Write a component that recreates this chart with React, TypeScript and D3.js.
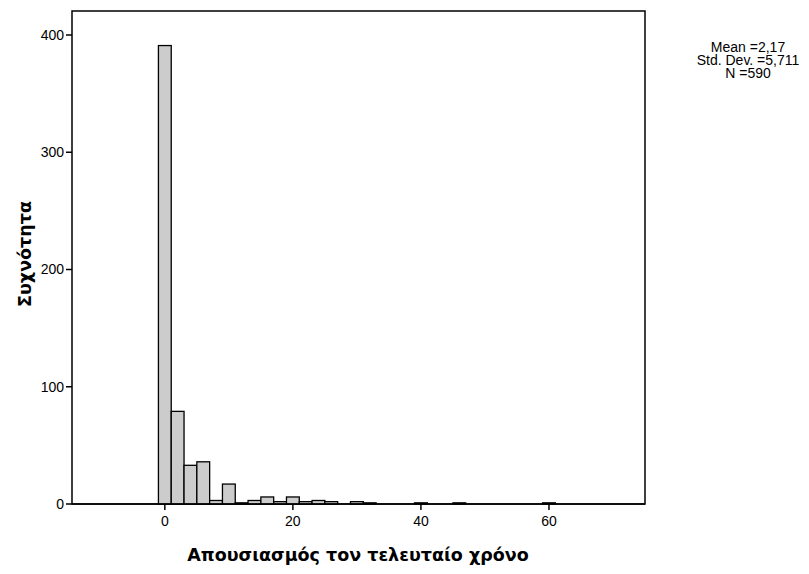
import React from "react";
import * as d3 from "d3";

const binCenters = [0, 2, 4, 6, 8, 10, 12, 14, 16, 18, 20, 22, 24, 26, 28, 30, 32, 40, 46, 60];
const binCounts = [391, 79, 33, 36, 3, 17, 1, 3, 6, 2, 6, 2, 3, 2, 0, 2, 1, 1, 1, 1];
const binWidth = 2;
const xTicks = [0, 20, 40, 60];
const yTicks = [0, 100, 200, 300, 400];
const statsLines = ["Mean =2,17", "Std. Dev. =5,711", "N =590"];
const xTitle = "Απουσιασμός τον τελευταίο χρόνο";
const yTitle = "Συχνότητα";

export default function App() {
  const W = 809, H = 574;
  const left = 72, right = 645, top = 11, bottom = 504;
  const x = d3.scaleLinear().domain([-14.5, 75]).range([left, right]);
  const y = d3.scaleLinear().domain([0, 400]).range([bottom, 35]);
  const font = "'Liberation Sans', Arial, sans-serif";
  const titleFont = "'DejaVu Sans', Verdana, sans-serif";
  return (
    <svg width={W} height={H} style={{ position: "absolute", left: 0, top: 0 }}>
      <rect x={0} y={0} width={W} height={H} fill="#fff" />
      <rect x={left} y={top} width={right - left} height={bottom - top} fill="none" stroke="#000" strokeWidth={1.5} />
      {binCenters.map((c, i) =>
        binCounts[i] > 0 ? (
          <rect
            key={i}
            x={x(c - binWidth / 2)}
            y={y(binCounts[i])}
            width={x(c + binWidth / 2) - x(c - binWidth / 2)}
            height={bottom - y(binCounts[i])}
            fill="#cccccc"
            stroke="#000"
            strokeWidth={1.3}
          />
        ) : null
      )}
      <line x1={left} x2={right} y1={bottom} y2={bottom} stroke="#000" strokeWidth={1.5} />
      {yTicks.map((t) => (
        <g key={t}>
          <line x1={left - 6} x2={left} y1={y(t)} y2={y(t)} stroke="#000" strokeWidth={1.5} />
          <text x={left - 8} y={y(t)} dy="0.35em" textAnchor="end" fontFamily={font} fontSize={14} fill="#000">
            {t}
          </text>
        </g>
      ))}
      {xTicks.map((t) => (
        <g key={t}>
          <line x1={x(t)} x2={x(t)} y1={bottom} y2={bottom + 6} stroke="#000" strokeWidth={1.5} />
          <text x={x(t)} y={bottom + 22} textAnchor="middle" fontFamily={font} fontSize={14} fill="#000">
            {t}
          </text>
        </g>
      ))}
      <text x={358} y={561} textAnchor="middle" fontFamily={titleFont} fontWeight="bold" fontSize={17.5} fill="#000">
        {xTitle}
      </text>
      <text
        transform={`translate(31, 254) rotate(-90)`}
        textAnchor="middle"
        fontFamily={titleFont}
        fontWeight="bold"
        fontSize={17.5}
        fill="#000"
      >
        {yTitle}
      </text>
      {statsLines.map((s, i) => (
        <text key={i} x={748} y={51.5 + i * 13} textAnchor="middle" fontFamily={font} fontSize={14} fill="#000">
          {s}
        </text>
      ))}
    </svg>
  );
}
